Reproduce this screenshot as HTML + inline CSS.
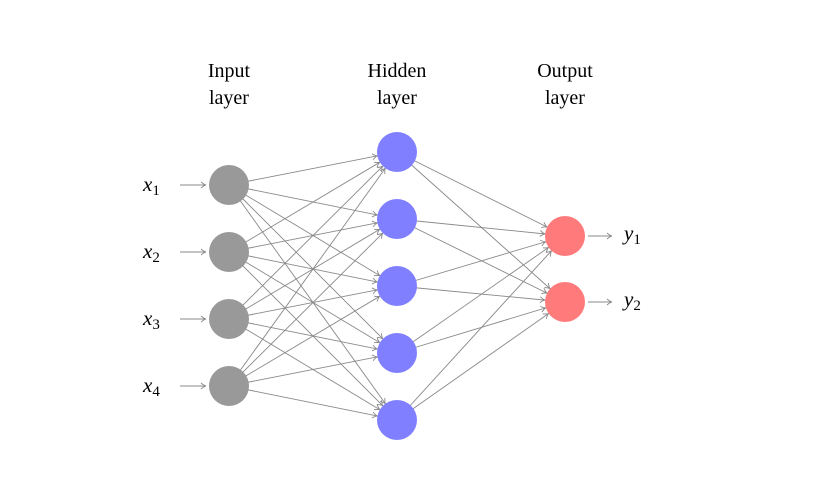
<!DOCTYPE html>
<html><head><meta charset="utf-8"><style>html,body{margin:0;padding:0;background:#fff}</style></head>
<body>
<svg width="820" height="475" viewBox="0 0 820 475" xmlns="http://www.w3.org/2000/svg">
<defs>
<marker id="a" markerUnits="userSpaceOnUse" viewBox="-30 -6 36 12" refX="20" refY="0" markerWidth="36" markerHeight="12" orient="auto" overflow="visible">
<path d="M-5,-3 Q-2,-0.5 0,0 Q-2,0.5 -5,3" fill="none" stroke="#888" stroke-width="0.9"/>
</marker>
<marker id="b" markerUnits="userSpaceOnUse" viewBox="-6 -6 12 12" refX="0" refY="0" markerWidth="12" markerHeight="12" orient="auto" overflow="visible">
<path d="M-5,-3 Q-2,-0.5 0,0 Q-2,0.5 -5,3" fill="none" stroke="#888" stroke-width="0.9"/>
</marker>
</defs>
<g font-family="Liberation Serif, serif" font-size="20" text-anchor="middle" fill="#000">
<text x="229" y="77">Input</text><text x="229" y="104">layer</text>
<text x="397" y="77">Hidden</text><text x="397" y="104">layer</text>
<text x="565" y="77">Output</text><text x="565" y="104">layer</text>
</g>
<g stroke="#888" stroke-width="0.9" marker-end="url(#a)">
<line x1="229" y1="185" x2="397" y2="152"/><line x1="229" y1="185" x2="397" y2="219"/><line x1="229" y1="185" x2="397" y2="286"/><line x1="229" y1="185" x2="397" y2="353"/><line x1="229" y1="185" x2="397" y2="420"/>
<line x1="229" y1="252" x2="397" y2="152"/><line x1="229" y1="252" x2="397" y2="219"/><line x1="229" y1="252" x2="397" y2="286"/><line x1="229" y1="252" x2="397" y2="353"/><line x1="229" y1="252" x2="397" y2="420"/>
<line x1="229" y1="319" x2="397" y2="152"/><line x1="229" y1="319" x2="397" y2="219"/><line x1="229" y1="319" x2="397" y2="286"/><line x1="229" y1="319" x2="397" y2="353"/><line x1="229" y1="319" x2="397" y2="420"/>
<line x1="229" y1="386" x2="397" y2="152"/><line x1="229" y1="386" x2="397" y2="219"/><line x1="229" y1="386" x2="397" y2="286"/><line x1="229" y1="386" x2="397" y2="353"/><line x1="229" y1="386" x2="397" y2="420"/>
<line x1="397" y1="152" x2="565" y2="236"/><line x1="397" y1="152" x2="565" y2="302"/>
<line x1="397" y1="219" x2="565" y2="236"/><line x1="397" y1="219" x2="565" y2="302"/>
<line x1="397" y1="286" x2="565" y2="236"/><line x1="397" y1="286" x2="565" y2="302"/>
<line x1="397" y1="353" x2="565" y2="236"/><line x1="397" y1="353" x2="565" y2="302"/>
<line x1="397" y1="420" x2="565" y2="236"/><line x1="397" y1="420" x2="565" y2="302"/>
</g>
<g stroke="#888" stroke-width="0.9" marker-end="url(#b)">
<line x1="180" y1="185" x2="206" y2="185"/><line x1="180" y1="252" x2="206" y2="252"/>
<line x1="180" y1="319" x2="206" y2="319"/><line x1="180" y1="386" x2="206" y2="386"/>
<line x1="588" y1="236" x2="612" y2="236"/><line x1="588" y1="302" x2="612" y2="302"/>
</g>
<g fill="#999">
<circle cx="229" cy="185" r="20"/><circle cx="229" cy="252" r="20"/><circle cx="229" cy="319" r="20"/><circle cx="229" cy="386" r="20"/>
</g>
<g fill="#7f7fff">
<circle cx="397" cy="152" r="20"/><circle cx="397" cy="219" r="20"/><circle cx="397" cy="286" r="20"/><circle cx="397" cy="353" r="20"/><circle cx="397" cy="420" r="20"/>
</g>
<g fill="#ff7b7b">
<circle cx="565" cy="236" r="20"/><circle cx="565" cy="302" r="20"/>
</g>
<g font-family="Liberation Serif, serif" font-style="italic" font-size="21" fill="#000">
<text x="143" y="191">x<tspan font-style="normal" font-size="15" dy="4">1</tspan></text>
<text x="143" y="258">x<tspan font-style="normal" font-size="15" dy="4">2</tspan></text>
<text x="143" y="325">x<tspan font-style="normal" font-size="15" dy="4">3</tspan></text>
<text x="143" y="392">x<tspan font-style="normal" font-size="15" dy="4">4</tspan></text>
<text x="624" y="240">y<tspan font-style="normal" font-size="15" dy="4">1</tspan></text>
<text x="624" y="306">y<tspan font-style="normal" font-size="15" dy="4">2</tspan></text>
</g>
</svg>
</body></html>
